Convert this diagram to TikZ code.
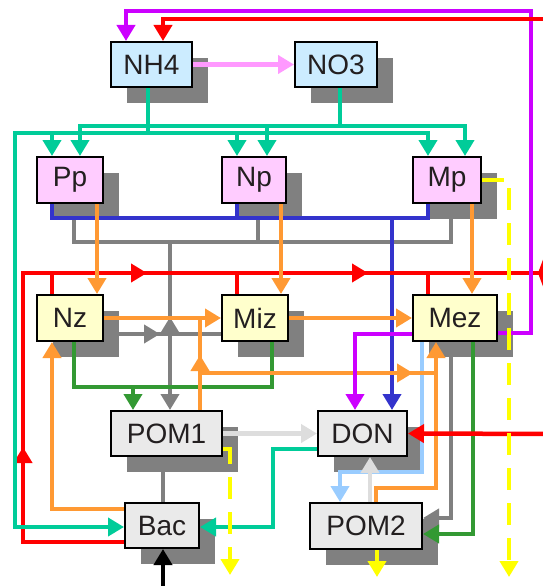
\documentclass[tikz,border=0pt]{standalone}
\usepackage{fontspec}
\setsansfont{Liberation Sans}
\usetikzlibrary{arrows.meta,shadows}
\definecolor{PoolInk}{HTML}{231F20}
\definecolor{PoolNut}{HTML}{CCECFF}
\definecolor{PoolPhyto}{HTML}{FFCCFF}
\definecolor{PoolZoo}{HTML}{FFFFCC}
\definecolor{PoolDetr}{HTML}{EAEAEA}
\definecolor{PoolShade}{HTML}{808080}
\definecolor{FlowTeal}{HTML}{00CC99}
\definecolor{FlowRed}{HTML}{FF0000}
\definecolor{FlowViolet}{HTML}{CC00FF}
\definecolor{FlowPink}{HTML}{FF99FF}
\definecolor{FlowBlue}{HTML}{3333CC}
\definecolor{FlowGray}{HTML}{808080}
\definecolor{FlowOrange}{HTML}{FF9933}
\definecolor{FlowGreen}{HTML}{339933}
\definecolor{FlowSky}{HTML}{99CCFF}
\definecolor{FlowMist}{HTML}{DDDDDD}
\definecolor{FlowYellow}{HTML}{FFFF00}
\tikzset{
  every node/.style={font=\sffamily\fontsize{28}{30}\selectfont, text=PoolInk},
  pool/.style={draw=black, line width=2pt, inner sep=0pt, minimum height=45pt,
    drop shadow={shadow xshift=16pt, shadow yshift=-16pt, fill=PoolShade, opacity=1}},
  link/.style={line width=4.5pt},
  flow/.style={link, -{Triangle[length=16pt,width=18pt]}},
  leak/.style={flow, dash pattern=on 22pt off 13pt},
}

\begin{document}
\begin{tikzpicture}[x=1pt,y=-1pt]
  \useasboundingbox (0,0) rectangle (543,586);
  \clip (0,0) rectangle (543,586);
  % pools
  \node[pool, fill=PoolNut, minimum width=81pt] (NH4) at (151.5,64.5) {NH4};
  \node[pool, fill=PoolNut, minimum width=82pt] (NO3) at (336,64.5) {NO3};
  \node[pool, fill=PoolPhyto, minimum width=66pt, minimum height=46pt] (Pp) at (70,180) {Pp};
  \node[pool, fill=PoolPhyto, minimum width=64pt, minimum height=46pt] (Np) at (254,180) {Np};
  \node[pool, fill=PoolPhyto, minimum width=68pt, minimum height=46pt] (Mp) at (447,180) {Mp};
  \node[pool, fill=PoolZoo, minimum width=66pt, minimum height=46pt] (Nz) at (70,318) {Nz};
  \node[pool, fill=PoolZoo, minimum width=66pt, minimum height=46pt] (Miz) at (255,318) {Miz};
  \node[pool, fill=PoolZoo, minimum width=84pt, minimum height=46pt] (Mez) at (455,318) {Mez};
  \node[pool, fill=PoolDetr, minimum width=111pt] (POM1) at (166.5,433.5) {POM1};
  \node[pool, fill=PoolDetr, minimum width=89pt] (DON) at (362.5,433.5) {DON};
  \node[pool, fill=PoolDetr, minimum width=74pt] (Bac) at (162,525.5) {Bac};
  \node[pool, fill=PoolDetr, minimum width=112pt, minimum height=46pt] (POM2) at (366,526) {POM2};
  % free ends beyond the frame
  \coordinate (topin) at (560,19);
  \coordinate (eastout) at (550,273);
  \coordinate (eastin) at (580,273);
  \coordinate (donin) at (560,434);
  \coordinate (floor) at (163,600);

  % sinking to the phytoplankton collectors
  \draw[link, FlowGray] (Pp.south -| 74,0) |- (451,242) -- (Mp.south -| 451,0);
  \draw[link, FlowGray] (Np.south -| 258,0) -- (258,242);
  \draw[flow, FlowGray] (170,242) -- (POM1.north -| 170,0);
  \draw[link, FlowGray] (Nz.east |- 0,334) -- (Miz.west |- 0,334);
  \draw[flow, FlowGray] (143,334) -- (160,334);
  \draw[flow, FlowGray] (170,334) -- (170,317);
  \draw[flow, FlowGray] (Mez.south -| 451,0) |- (POM2.east |- 0,518);
  \draw[link, FlowGray] (Bac.north -| 163,0) -- (POM1.south -| 163,0);
  \draw[link, FlowBlue] (Pp.south -| 52,0) |- (428,218) -- (Mp.south -| 428,0);
  \draw[link, FlowBlue] (Np.south -| 237,0) -- (237,218);
  \draw[flow, FlowBlue] (392,218) -- (DON.north -| 392,0);

  % red loop on the left
  \draw[link, FlowRed] (Bac.west |- 0,542) -| (23,273) -- (eastout);
  \draw[flow, FlowRed] (23,464) -- (23,447);
  \draw[flow, FlowRed] (130,273) -- (147,273);
  \draw[flow, FlowRed] (351,273) -- (368,273);
  \draw[link, FlowRed] (52,273) -- (Nz.north -| 52,0);
  \draw[link, FlowRed] (237,273) -- (Miz.north -| 237,0);
  \draw[link, FlowRed] (428,273) -- (Mez.north -| 428,0);

  % nutrient uptake
  \draw[flow, FlowTeal] (NH4.south -| 148,0) |- (15,133) |- (Bac.west |- 0,527);
  \draw[flow, FlowTeal] (148,133) -| (Mp.north -| 428,0);
  \draw[flow, FlowTeal] (52,133) -- (Pp.north -| 52,0);
  \draw[flow, FlowTeal] (237,133) -- (Np.north -| 237,0);
  \draw[flow, FlowTeal] (NO3.south -| 340,0) |- (80,126) -- (Pp.north -| 80,0);
  \draw[flow, FlowTeal] (340,126) -| (Mp.north -| 465,0);
  \draw[flow, FlowTeal] (267,126) -- (Np.north -| 267,0);
  \draw[flow, FlowTeal] (DON.west |- 0,449) -| (273,527) -- (Bac.east |- 0,527);

  % grazing
  \draw[link, FlowGreen] (Nz.south -| 74,0) |- (272,387) -- (Miz.south -| 272,0);
  \draw[flow, FlowGreen] (133,387) -- (POM1.north -| 133,0);
  \draw[flow, FlowGreen] (Mez.south -| 473,0) |- (POM2.east |- 0,534);
  \draw[flow, FlowSky] (Mez.south -| 422,0) |- (340,472) -- (POM2.north -| 340,0);
  \draw[flow, FlowMist] (POM1.east) -- (DON.west);
  \draw[flow, FlowMist] (POM2.north -| 370,0) -- (DON.south -| 370,0);
  \draw[flow, FlowOrange] (Pp.south -| 97,0) -- (Nz.north -| 97,0);
  \draw[flow, FlowOrange] (Np.south -| 281,0) -- (Miz.north -| 281,0);
  \draw[flow, FlowOrange] (Mp.south -| 472,0) -- (Mez.north -| 472,0);
  \draw[flow, FlowOrange] (Nz.east) -- (Miz.west);
  \draw[flow, FlowOrange] (Miz.east) -- (Mez.west);
  \draw[link, FlowOrange] (POM1.north -| 200,0) -- (200,318);
  \draw[flow, FlowOrange] (200,372) -- (200,355);
  \draw[link, FlowOrange] (200,373) -- (436,373);
  \draw[flow, FlowOrange] (396,373) -- (413,373);
  \draw[flow, FlowOrange] (POM2.north -| 376,0) |- (436,488) -- (Mez.south -| 436,0);
  \draw[flow, FlowOrange] (Bac.west |- 0,509) -| (Nz.south -| 52,0);

  % excretion and nitrification
  \draw[flow, FlowViolet] (Mez.east |- 0,333) -| (531,11) -| (NH4.north -| 126,0);
  \draw[flow, FlowViolet] (Mez.west |- 0,334) -| (DON.north -| 355,0);
  \draw[flow, FlowPink] (NH4.east) -- (NO3.west);
  \draw[flow, FlowRed] (topin) -| (NH4.north -| 163,0);
  \draw[flow, FlowRed] (donin) -- (DON.east);
  \draw[FlowRed, line width=4.5pt, -{Triangle[length=9pt,width=48pt]}] (eastin) -- (538,273);

  % losses
  \draw[leak, FlowYellow] (POM1.east |- 0,449) -| (230,575);
  \draw[leak, FlowYellow] (Mp.east) -| (509,577);
  \draw[flow, FlowYellow] (POM2.south -| 377,0) -- (377,577);
  \draw[flow, black] (floor) -- (Bac.south -| 163,0);
\end{tikzpicture}
\end{document}
